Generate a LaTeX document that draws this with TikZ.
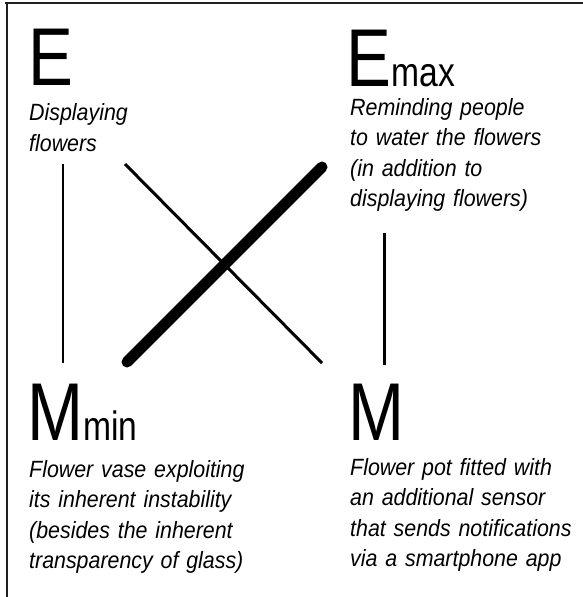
\documentclass[tikz,border=0pt]{standalone}
\usepackage{fontspec}
\setmainfont{Liberation Sans}
\newfontfamily\bigletter[FakeStretch=0.82]{Liberation Sans}
\newfontfamily\bodytext[FakeStretch=0.91]{Liberation Sans}
\begin{document}
\begin{tikzpicture}[x=1pt,y=-1pt,
  letter/.style={anchor=base west,inner sep=0pt,font=\bigletter\fontsize{82}{82}\selectfont},
  desc/.style={anchor=base west,inner sep=0pt,text width=250pt,align=left,
    font=\bodytext\itshape\fontsize{23.5}{30.5}\selectfont},
  link/.style={line width=2.5pt,black},
  thinx/.style={line width=3pt,black},
  thickx/.style={line width=11pt,black,line cap=round}]
\useasboundingbox (0,0) rectangle (583,597);
\draw[line width=2pt,black!88] (5,3.2) -- (583,3.2);
\draw[line width=2pt,black!88] (6.5,3) -- (6.5,597);

\node[letter] (E) at (28,85) {E};
\node[desc] (Et) at (29,120.5) {Displaying\\flowers};

\node[letter] (Emax) at (346.5,86) {E\fontsize{41}{41}\selectfont max};
\node[desc] (Emaxt) at (350,115) {Reminding people\\to water the flowers\\(in addition to\\displaying flowers)};

\node[letter] (Mmin) at (27,440) {M\fontsize{41}{41}\selectfont min};
\node[desc] (Mmint) at (29,477) {Flower vase exploiting\\its inherent instability\\(besides the inherent\\transparency of glass)};

\node[letter] (M) at (348,440) {M};
\node[desc] (Mt) at (350,475) {Flower pot fitted with\\an additional sensor\\that sends notifications\\via a smartphone app};

\coordinate (e1) at (63,164);
\coordinate (m1) at (63,363);
\coordinate (e2) at (384.5,233);
\coordinate (m2) at (384.5,365);
\coordinate (e3) at (125,164);
\coordinate (m3) at (322,363);
\coordinate (m4) at (127,362);
\coordinate (e4) at (322,167);

\draw[link] (e1) -- (m1);
\draw[link] (e2) -- (m2);
\draw[thinx] (e3) -- (m3);
\draw[thickx] (m4) -- (e4);
\end{tikzpicture}
\end{document}
